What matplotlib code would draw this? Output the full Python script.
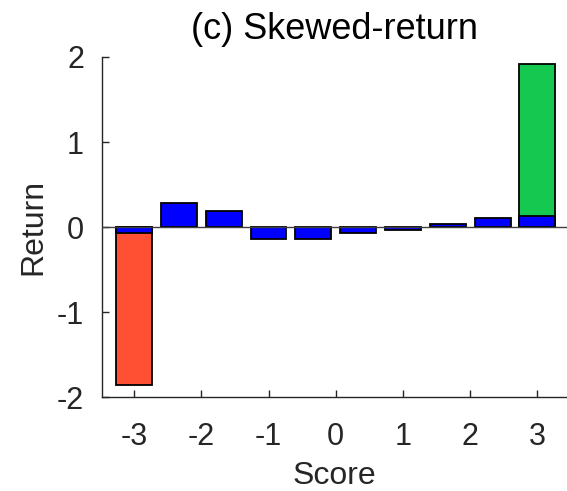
import matplotlib
matplotlib.use("Agg")

import matplotlib.pyplot as plt

plt.rcParams["font.family"] = ["Liberation Sans", "DejaVu Sans"]

# score bins and mean returns
score_pos = [-3.0, -2.333, -1.667, -1.0, -0.333, 0.333, 1.0, 1.667, 2.333, 3.0]
bin_return = [-0.065, 0.28, 0.19, -0.135, -0.145, -0.07, -0.04, 0.035, 0.11, 0.13]
# extreme bins
low_pos, low_return = -3.0, -1.86
high_pos, high_return = 3.0, 1.92

xtick_vals = [-3, -2, -1, 0, 1, 2, 3]
ytick_vals = [-2, -1, 0, 1, 2]

txt = "#262626"
bw = 0.535

fig = plt.figure(figsize=(5.67, 4.91), dpi=100)
ax = fig.add_axes([0.18, 0.191, 0.82, 0.693])

ax.bar([low_pos], [low_return], bw, color="#FF5033", edgecolor="black", linewidth=1.3, zorder=2)
ax.bar([high_pos], [high_return], bw, color="#14C850", edgecolor="black", linewidth=1.3, zorder=2)
ax.bar(score_pos, bin_return, bw, color="#0000FF", edgecolor="black", linewidth=1.3, zorder=3)
ax.axhline(0, color="#404040", linewidth=1.0, zorder=4)

ax.set_xlim(-3.476, 3.44)
ax.set_ylim(-2, 2)
ax.set_xticks(xtick_vals)
ax.set_xticklabels([str(v) for v in xtick_vals])
ax.set_yticks(ytick_vals)
ax.set_yticklabels([str(v) for v in ytick_vals])
ax.tick_params(direction="in", length=5, width=1, colors=txt, labelsize=22)
ax.tick_params(axis="x", pad=18)
ax.tick_params(axis="y", pad=13)
ax.spines["top"].set_visible(False)
ax.spines["right"].set_visible(False)
for s in ["left", "bottom"]:
    ax.spines[s].set_color(txt)
    ax.spines[s].set_linewidth(1)

ax.set_title("(c) Skewed-return", fontsize=26, color="black", pad=13)
ax.set_xlabel("Score", fontsize=23, color=txt, labelpad=6)
ax.set_ylabel("Return", fontsize=23, color=txt, labelpad=6)

plt.savefig("out.png", dpi=100)
